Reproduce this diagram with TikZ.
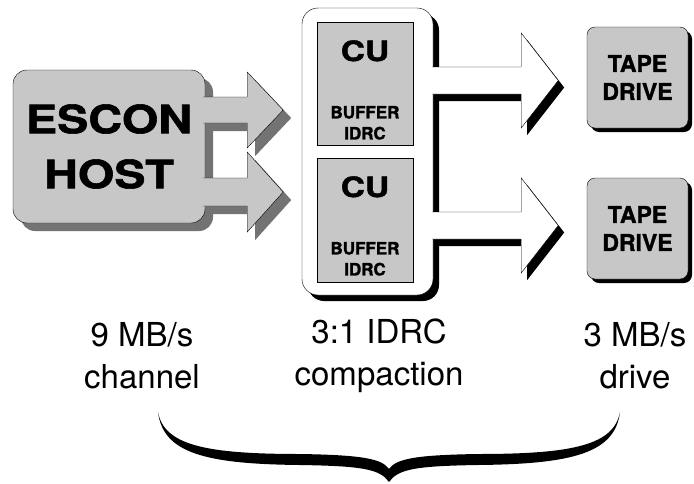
\documentclass[tikz,border=0pt]{standalone}
\usepackage{fontspec}
\setmainfont{TeX Gyre Heros}
\newfontfamily\widesans{TeX Gyre Heros}[FakeStretch=1.2,FakeBold=1.5]
\newfontfamily\heavysans{TeX Gyre Heros}[FakeBold=1.5]
\usetikzlibrary{positioning,calc,shadows}

\begin{document}
\begin{tikzpicture}[x=1pt,y=-1pt,
  dotfill/.style={fill=black!22},
  hatchshadow/.style={drop shadow={shadow xshift=8pt,shadow yshift=-8pt,fill=black!55,opacity=1}},
  blackshadow/.style={drop shadow={shadow xshift=#1,shadow yshift=-#1,fill=black,opacity=1}},
  unitbox/.style={draw,dotfill,inner sep=0pt,minimum width=96pt},
  drivebox/.style={draw,dotfill,rounded corners=8pt,blackshadow=4pt,minimum width=101pt,minimum height=101pt,align=center,font=\heavysans\bfseries\fontsize{23}{28}\selectfont},
  hostarrow/.style={draw,dotfill,line join=miter,hatchshadow},
  outarrow/.style={draw,fill=white,line join=miter,drop shadow={shadow xshift=6pt,shadow yshift=-7pt,fill=black,opacity=1}},
  ratelabel/.style={align=center,font=\fontsize{33}{42}\selectfont}]
\useasboundingbox (0,0) rectangle (694,483);

% controller group
\node[draw,fill=white,rounded corners=16pt,blackshadow=6pt,minimum width=131pt,minimum height=287pt] (cugroup) at (367.5,151.5) {};
\node[unitbox,minimum height=123pt] (cu1) at (365,83.5) {};
\node[unitbox,minimum height=124pt] (cu2) at (365,220) {};
\foreach \u in {cu1,cu2}{
  \node[font=\widesans\bfseries\fontsize{28}{28}\selectfont] (\u name) at ($(\u.north)+(0,29)$) {CU};
  \node[align=center,font=\heavysans\bfseries\fontsize{17}{21}\selectfont] (\u buf) at ($(\u.north)+(0,101)$) {BUFFER\\IDRC};
}

% host and its two channels
\node[draw,dotfill,rounded corners=14pt,hatchshadow,minimum width=192pt,minimum height=153pt,inner sep=0pt,align=center,font=\widesans\bfseries\fontsize{39}{55}\selectfont] (host) at (109,146.5) {ESCON\\HOST};
\filldraw[hostarrow] ($(host.east)+(-2,-49.5)$) -- ++(44,0) -- ++(0,-25) -- ++(36,38) -- ++(-36,38) -- ++(0,-25) -- ++(-44,0);
\filldraw[hostarrow] ($(host.east)+(-2,31.5)$) -- ++(44,0) -- ++(0,-26) -- ++(36,40) -- ++(-36,40) -- ++(0,-26) -- ++(-44,0);

% drives
\node[drivebox] (tape1) at (637.5,77.5) {TAPE\\DRIVE};
\node[drivebox] (tape2) at (637.5,228.5) {TAPE\\DRIVE};
\filldraw[outarrow] ($(cugroup.east)+(-1,-84.5)$) -- ++(89,0) -- ++(0,-34) -- ++(37,47.5) -- ++(-37,47.5) -- ++(0,-34) -- ++(-89,0);
\filldraw[outarrow] ($(cugroup.east)+(-1,60.5)$) -- ++(89,0) -- ++(0,-34) -- ++(37,47.5) -- ++(-37,47.5) -- ++(0,-34) -- ++(-89,0);

% rates
\node[ratelabel] (chan) at (142,356) {9 MB/s\\channel};
\node[ratelabel] (comp) at (379,356) {3:1 IDRC\\compaction};
\node[ratelabel] (drv) at (635,356) {3 MB/s\\drive};

% brace
\fill (158,412) .. controls (163,453) and (205,464) .. (300,465) .. controls (362,466) and (380,469) .. (389,482)
  .. controls (398,469) and (416,466) .. (478,465) .. controls (573,464) and (615,453) .. (620,412)
  .. controls (614,445) and (573,454) .. (478,454) .. controls (414,455) and (396,459) .. (389,469)
  .. controls (382,459) and (364,455) .. (300,454) .. controls (205,454) and (164,445) .. (158,412) -- cycle;
\end{tikzpicture}
\end{document}
